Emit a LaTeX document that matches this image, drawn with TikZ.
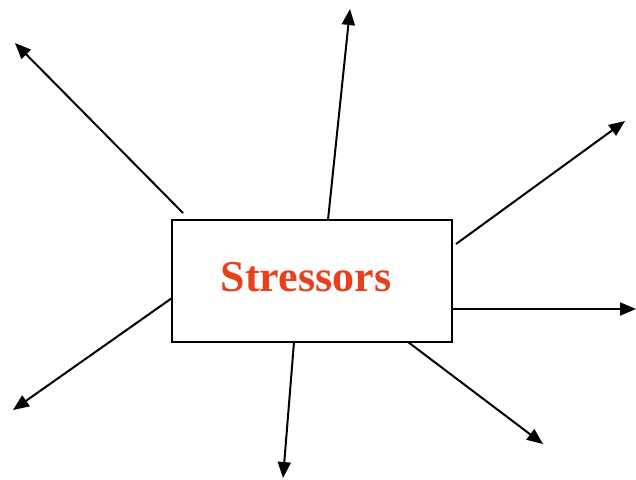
\documentclass[tikz,border=0pt]{standalone}
\usepackage{fontspec}
\setmainfont{Liberation Serif}
\usetikzlibrary{arrows.meta}
\definecolor{stressred}{RGB}{232,64,28}
\begin{document}
\begin{tikzpicture}[x=1pt, y=-1pt,
        stressarrow/.style={line width=2pt, -{Triangle[length=16pt,width=13pt]}}]
    \useasboundingbox (0,0) rectangle (636,479);
    \node[draw, line width=2pt, minimum width=280pt, minimum height=122pt, inner sep=0pt]
        (stressbox) at (312,281) {};
    \node[text=stressred, font=\fontsize{44}{50}\selectfont\bfseries]
        (stresslabel) at (306,277) {Stressors};
    % start and end of each arrow
    \foreach \name/\sx/\sy/\ex/\ey in {nw/183/213/15/43, n/328/220/350/9, ne/456/244/625/121,
            e/452/309/636/309, se/408/342/543/444, s/294/342/283/478, sw/172/298/13/410} {
        \coordinate (from-\name) at (\sx,\sy);
        \coordinate (to-\name) at (\ex,\ey);
        \draw[stressarrow] (from-\name) -- (to-\name);
    }
\end{tikzpicture}
\end{document}
